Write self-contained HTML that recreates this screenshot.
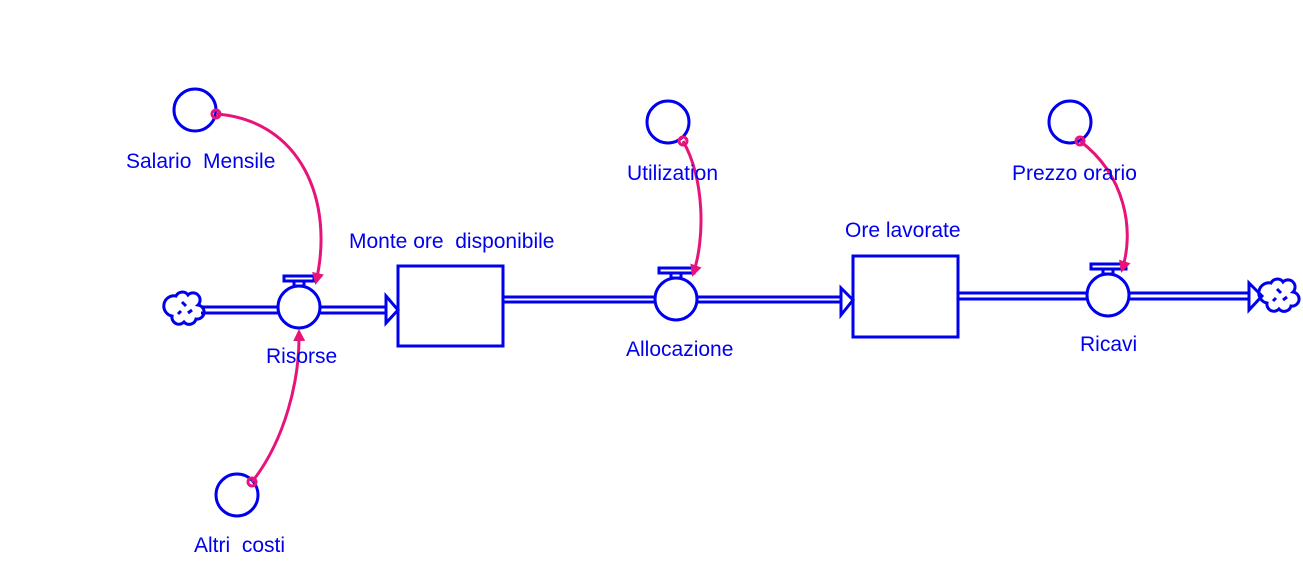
<!DOCTYPE html>
<html><head><meta charset="utf-8"><style>
html,body{margin:0;padding:0;background:#fff;width:1303px;height:563px;overflow:hidden}
svg text{font-family:"Liberation Sans",Arial,sans-serif;font-size:21px;fill:#0000ee;white-space:pre}
</style></head><body>
<svg width="1303" height="563" viewBox="0 0 1303 563" xmlns="http://www.w3.org/2000/svg">
<defs>
<marker id="ah" markerWidth="12" markerHeight="12" refX="9" refY="6" orient="auto" markerUnits="userSpaceOnUse"><path d="M0,0 L12,6 L0,12 z" fill="#e8137a"/></marker>
</defs>
<g stroke="#0000ee" stroke-width="3" fill="none">
<g transform="translate(184,310)">
<path d="M-8,-14 a7,7 0 0 1 12,-1 a7,7 0 0 1 10,10 a7,7 0 0 1 -2,14 a7,7 0 0 1 -12,3 a7,7 0 0 1 -12,-6 a7,7 0 0 1 4,-20z"/>
<path d="M-2,-8 l4,4 M8,0 l-4,3 M-6,4 l3,-3"/>
</g>
<line x1="201" y1="307" x2="388" y2="307"/>
<line x1="201" y1="313" x2="388" y2="313"/>
<path d="M386,296 L398,310 L386,323 Z" fill="#fff"/>
<circle cx="299" cy="307" r="21" fill="#fff"/>
<rect x="284" y="276" width="30" height="5"/><rect x="294" y="281" width="10" height="5"/>
<rect x="398" y="266" width="105" height="80"/>
<line x1="503" y1="297" x2="843" y2="297"/>
<line x1="503" y1="302" x2="843" y2="302"/>
<path d="M841,288 L853,300 L841,315 Z" fill="#fff"/>
<circle cx="676" cy="299" r="21" fill="#fff"/>
<rect x="659" y="268" width="35" height="5"/><rect x="671" y="273" width="10" height="5"/>
<rect x="853" y="256" width="105" height="81"/>
<line x1="958" y1="293" x2="1252" y2="293"/>
<line x1="958" y1="299" x2="1252" y2="299"/>
<path d="M1249,283 L1262,296 L1249,310 Z" fill="#fff"/>
<circle cx="1108" cy="295" r="21" fill="#fff"/>
<rect x="1091" y="264" width="35" height="5"/><rect x="1103" y="269" width="10" height="5"/>
<g transform="translate(1279,297)">
<path d="M-8,-14 a7,7 0 0 1 12,-1 a7,7 0 0 1 10,10 a7,7 0 0 1 -2,14 a7,7 0 0 1 -12,3 a7,7 0 0 1 -12,-6 a7,7 0 0 1 4,-20z"/>
<path d="M-2,-8 l4,4 M8,0 l-4,3 M-6,4 l3,-3"/>
</g>
<circle cx="195" cy="110" r="21"/>
<circle cx="668" cy="122" r="21"/>
<circle cx="1070" cy="122" r="21"/>
<circle cx="237" cy="495" r="21"/>
</g>
<g stroke="#e8137a" stroke-width="3" fill="none">
<path d="M216,114 C300,120 335,200 316,282" marker-end="url(#ah)"/>
<circle cx="216" cy="114" r="4"/>
<path d="M683,141 C705,180 705,240 693,274" marker-end="url(#ah)"/>
<circle cx="683" cy="141" r="4"/>
<path d="M1080,141 C1125,175 1135,230 1122,270" marker-end="url(#ah)"/>
<circle cx="1080" cy="141" r="4"/>
<path d="M252,482 C285,440 300,380 299,332" marker-end="url(#ah)"/>
<circle cx="252" cy="482" r="4"/>
</g>
<text x="126" y="168">Salario  Mensile</text>
<text x="349" y="248">Monte ore  disponibile</text>
<text x="627" y="180">Utilization</text>
<text x="845" y="237">Ore lavorate</text>
<text x="1012" y="180">Prezzo orario</text>
<text x="266" y="363">Risorse</text>
<text x="626" y="356">Allocazione</text>
<text x="1080" y="351">Ricavi</text>
<text x="194" y="552">Altri  costi</text>
</svg>
</body></html>
